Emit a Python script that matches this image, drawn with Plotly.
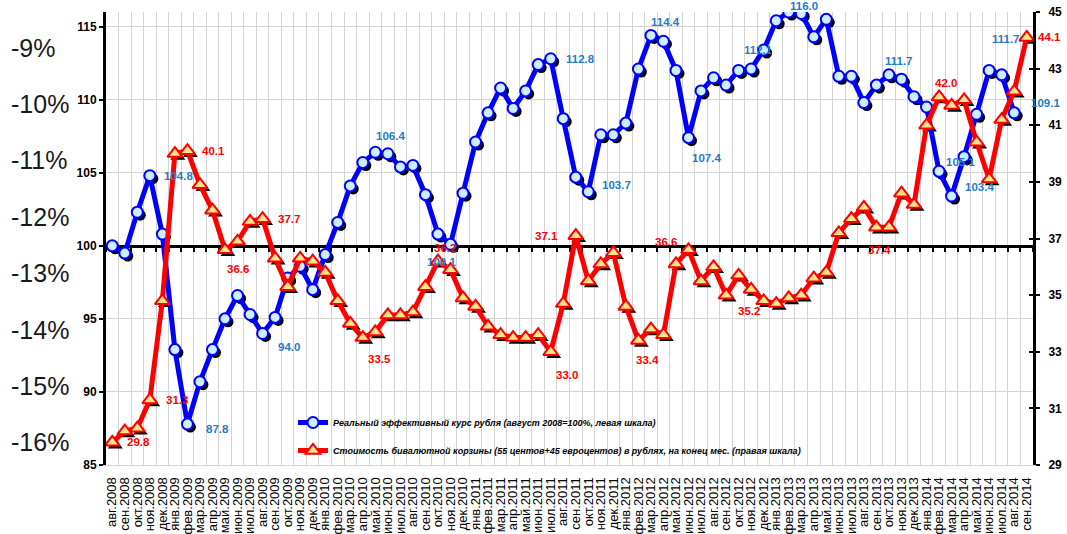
import plotly.graph_objects as go

months = [
    'авг.2008', 'сен.2008', 'окт.2008', 'ноя.2008', 'дек.2008',
    'янв.2009', 'фев.2009', 'мар.2009', 'апр.2009', 'май.2009', 'июн.2009', 'июл.2009',
    'авг.2009', 'сен.2009', 'окт.2009', 'ноя.2009', 'дек.2009',
    'янв.2010', 'фев.2010', 'мар.2010', 'апр.2010', 'май.2010', 'июн.2010', 'июл.2010',
    'авг.2010', 'сен.2010', 'окт.2010', 'ноя.2010', 'дек.2010',
    'янв.2011', 'фев.2011', 'мар.2011', 'апр.2011', 'май.2011', 'июн.2011', 'июл.2011',
    'авг.2011', 'сен.2011', 'окт.2011', 'ноя.2011', 'дек.2011',
    'янв.2012', 'фев.2012', 'мар.2012', 'апр.2012', 'май.2012', 'июн.2012', 'июл.2012',
    'авг.2012', 'сен.2012', 'окт.2012', 'ноя.2012', 'дек.2012',
    'янв.2013', 'фев.2013', 'мар.2013', 'апр.2013', 'май.2013', 'июн.2013', 'июл.2013',
    'авг.2013', 'сен.2013', 'окт.2013', 'ноя.2013', 'дек.2013',
    'янв.2014', 'фев.2014', 'мар.2014', 'апр.2014', 'май.2014', 'июн.2014', 'июл.2014',
    'авг.2014', 'сен.2014',
]

# Real effective exchange rate of the rouble (Aug 2008 = 100), left scale
reer = [
    100.0, 99.5, 102.3, 104.8, 100.8,
    92.9, 87.8, 90.7, 92.9, 95.0, 96.6, 95.3,
    94.0, 95.1, 97.8, 98.6, 97.0,
    99.4, 101.6, 104.1, 105.7, 106.4, 106.3, 105.4,
    105.5, 103.5, 100.8, 100.1, 103.6,
    107.1, 109.1, 110.8, 109.4, 110.6, 112.4, 112.8,
    108.7, 104.7, 103.7, 107.6, 107.6,
    108.4, 112.1, 114.4, 114.0, 112.0, 107.4, 110.6,
    111.5, 111.0, 112.0, 112.1, 113.4,
    115.4, 116.0, 115.9, 114.3, 115.5, 111.6, 111.6,
    109.8, 111.0, 111.7, 111.4, 110.2,
    109.5, 105.1, 103.4, 106.1, 109.0, 112.0, 111.7,
    109.1, None,
]

# Bi-currency basket cost in roubles, end of month, right scale
basket = [
    29.8, 30.2, 30.3, 31.3, 34.8,
    40.0, 40.1, 38.9, 38.0, 36.6, 36.9, 37.6,
    37.7, 36.3, 35.3, 36.3, 36.2,
    35.8, 34.8, 34.0, 33.5, 33.7, 34.3, 34.3,
    34.4, 35.3, 36.2, 35.9, 34.9,
    34.6, 33.9, 33.6, 33.5, 33.5, 33.6, 33.0,
    34.7, 37.1, 35.5, 36.1, 36.5,
    34.6, 33.4, 33.8, 33.6, 36.1, 36.6, 35.5,
    36.0, 35.0, 35.7, 35.2, 34.8,
    34.7, 34.9, 35.0, 35.6, 35.8, 37.2, 37.7,
    38.1, 37.4, 37.4, 38.6, 38.2,
    41.0, 42.0, 41.7, 41.9, 40.4, 39.1, 41.2,
    42.2, 44.1,
]

pct_levels = [-9, -10, -11, -12, -13, -14, -15, -16]
pct_labels = ['-9%', '-10%', '-11%', '-12%', '-13%', '-14%', '-15%', '-16%']
left_ticks = [85, 90, 95, 100, 105, 110, 115]
right_ticks = [29, 31, 33, 35, 37, 39, 41, 43, 45]
base_level = 100

# labelled points: index and label offset (px, dx right, dy down)
blue_labels = [(3, 29, 0), (6, 30, 5), (12, 26, 14), (21, 15, -16), (27, -9, 18),
               (35, 30, 0), (38, 28, -7), (43, 15, -13), (46, 18, 20), (51, 7, -19),
               (54, 15, -6), (62, 10, -14), (66, 21, -9), (67, 28, -9), (71, 4, -36),
               (72, 31, -10)]
red_labels = [(0, 26, 0), (3, 27, 0), (6, 26, 0), (9, 13, 19), (12, 26, 0),
              (20, 17, 21), (26, 7, -13), (35, 16, 23), (37, -29, 0), (42, 9, 20),
              (46, -23, -8), (51, -2, 22), (61, 3, 23), (66, 7, -14), (73, 23, 0)]

W, H = 1067, 534
PL, PR, PT, PB = 106, 1033, 12, 465
xdom = [PL / W, PR / W]
n = len(months)
YL = [85, 116]
YR = [29, 45]
pw, ph = PR - PL, PB - PT
sx = 3 * n / pw
syl = 3 * (YL[1] - YL[0]) / ph
syr = 3 * (YR[1] - YR[0]) / ph
CLIP = 69

BLUE = '#0000FF'
RED = '#FF0000'
LBL_BLUE = '#1F7CC6'
GRID = '#D4D4D4'

fig = go.Figure()

# shadows (drawn on shifted hidden axes)
fig.add_trace(go.Scatter(x=months, y=reer, mode='markers', xaxis='x', yaxis='y',
                         marker=dict(symbol='circle', size=11, color='black'),
                         showlegend=False, hoverinfo='skip'))
fig.add_trace(go.Scatter(x=months, y=basket, mode='markers', xaxis='x', yaxis='y2',
                         marker=dict(symbol='triangle-up', size=13, color='black'),
                         showlegend=False, hoverinfo='skip'))

fig.add_trace(go.Scatter(
    x=months, y=reer, mode='lines+markers', xaxis='x2', yaxis='y3',
    name='Реальный эффективный курс рубля (август 2008=100%, левая шкала)',
    line=dict(color=BLUE, width=5),
    marker=dict(symbol='circle', size=11, color='#CCEEFF', line=dict(color=BLUE, width=2)),
    legendgroup='a', connectgaps=False))
fig.add_trace(go.Scatter(
    x=months, y=basket, mode='lines+markers', xaxis='x2', yaxis='y4',
    name='Стоимость бивалютной корзины (55 центов+45 евроцентов) в рублях, на конец мес. (правая шкала)',
    line=dict(color=RED, width=5),
    marker=dict(symbol='triangle-up', size=13, color='#FFE38A', line=dict(color=RED, width=2)),
    legendgroup='b'))

# helper traces for extra axes
fig.add_trace(go.Scatter(x=[], y=[], xaxis='x3', yaxis='y3', showlegend=False, hoverinfo='skip'))
fig.add_trace(go.Scatter(x=[], y=[], xaxis='x2', yaxis='y6', showlegend=False, hoverinfo='skip'))

# big percentage scale on the left (clipped by its own small subplot)
fig.add_trace(go.Scatter(
    x=[11] * len(pct_levels), y=pct_levels, mode='text', text=pct_labels,
    textposition='middle right', xaxis='x4', yaxis='y5', cliponaxis=True,
    textfont=dict(family='Liberation Sans', size=25, color='#1a1a1a'),
    showlegend=False, hoverinfo='skip'))

annotations = []
for i, dx, dy in blue_labels:
    annotations.append(dict(x=months[i], y=reer[i], xref='x2', yref='y3', text=f'{reer[i]:.1f}',
                            showarrow=False, xshift=dx, yshift=-dy,
                            font=dict(family='Arial', size=11.5, color=LBL_BLUE, weight='bold')))
for i, dx, dy in red_labels:
    annotations.append(dict(x=months[i], y=basket[i], xref='x2', yref='y4', text=f'{basket[i]:.1f}',
                            showarrow=False, xshift=dx, yshift=-dy,
                            font=dict(family='Arial', size=11.5, color=RED, weight='bold')))

tickfont_b = dict(family='Arial', size=12, color='black', weight='bold')

fig.update_layout(
    template='none',
    width=W, height=H,
    margin=dict(l=0, r=0, t=PT, b=H - PB, pad=0),
    paper_bgcolor='white', plot_bgcolor='white',
    showlegend=True,
    legend=dict(x=293 / W, y=(PB - 408) / ph, xanchor='left', yanchor='top',
                bgcolor='rgba(0,0,0,0)', itemwidth=30, traceorder='grouped', tracegroupgap=9,
                font=dict(family='Arial', size=9, color='black', weight='bold', style='italic')),
    xaxis=dict(type='category', categoryorder='array', categoryarray=months,
               range=[-0.5 - sx, n - 0.5 - sx], domain=xdom, visible=False, anchor='y',
               automargin=False),
    yaxis=dict(range=[YL[0] + syl, YL[1] + syl], visible=False, anchor='x', automargin=False),
    yaxis2=dict(range=[YR[0] + syr, YR[1] + syr], visible=False, overlaying='y', anchor='x',
                automargin=False),
    xaxis2=dict(type='category', categoryorder='array', categoryarray=months,
                range=[-0.5, n - 0.5], domain=xdom, overlaying='x', anchor='y3', side='bottom',
                tickmode='linear', tick0=0, dtick=1,
                tickson='boundaries', showgrid=True, gridcolor=GRID, gridwidth=1,
                ticks='', tickangle=-90, ticklabelstandoff=6,
                tickfont=dict(family='Arial', size=13, color='black'),
                showline=True, linecolor=GRID, linewidth=1, zeroline=False, automargin=False),
    yaxis3=dict(range=YL, overlaying='y', anchor='x2', side='left', tickmode='array',
                tickvals=left_ticks, showgrid=True, gridcolor=GRID, gridwidth=1,
                showline=True, linecolor='black', linewidth=3, ticks='outside', ticklen=4,
                tickwidth=2, tickcolor='black', tickfont=tickfont_b, zeroline=False,
                automargin=False),
    yaxis4=dict(range=YR, overlaying='y', anchor='x2', side='right', tickmode='array',
                tickvals=right_ticks, showgrid=False, showline=True, linecolor='black',
                linewidth=3, ticks='outside', ticklen=4, tickwidth=2, tickcolor='black',
                tickfont=tickfont_b, zeroline=False, automargin=False, ticklabelstandoff=6),
    yaxis6=dict(range=YR, overlaying='y', anchor='x2', side='right', tickmode='array',
                tickvals=right_ticks, showgrid=False, showline=False, ticks='inside', ticklen=4,
                tickwidth=2, tickcolor='black', showticklabels=False, zeroline=False,
                automargin=False),
    xaxis3=dict(range=[-0.5, n - 0.5], overlaying='x', anchor='free',
                position=(base_level - YL[0]) / (YL[1] - YL[0]),
                showline=True, linewidth=3, linecolor='black', ticks='outside',
                tickmode='array', tickvals=[k - 0.5 for k in range(n + 1)], ticklen=4,
                tickwidth=2, tickcolor='black', showticklabels=False, showgrid=False,
                zeroline=False, layer='below traces', automargin=False),
    xaxis4=dict(domain=[0, CLIP / W], range=[0, CLIP], visible=False, anchor='y5',
                automargin=False),
    yaxis5=dict(domain=[0, 1], range=[-16.355, -8.317], visible=False, anchor='x4',
                automargin=False),
    annotations=annotations,
)

fig.write_html('out.html', config={'displayModeBar': False},
               post_script="document.body.style.margin='0';")
